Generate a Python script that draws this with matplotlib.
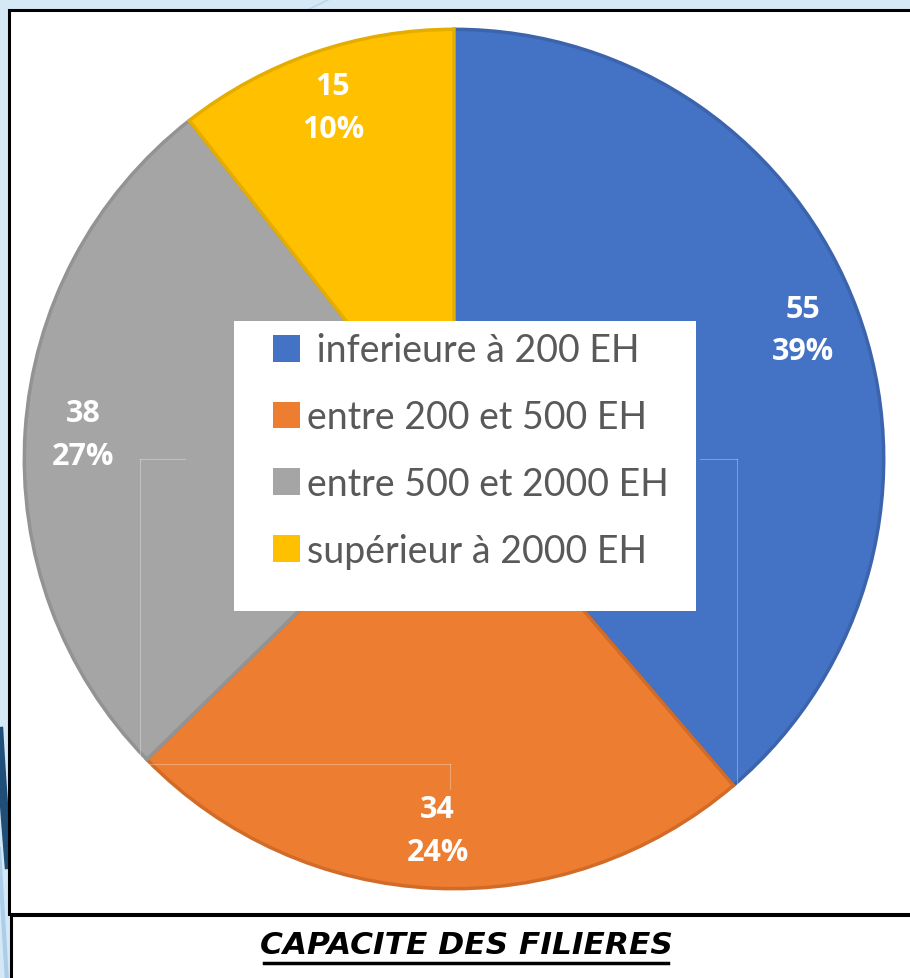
"""
Pie chart: capacite des filieres
"""
import numpy as np
import matplotlib.pyplot as plt
from matplotlib.patches import Rectangle

# data
categories = [' inferieure à 200 EH', 'entre 200 et 500 EH',
              'entre 500 et 2000 EH', 'supérieur à 2000 EH']
values = [55, 34, 38, 15]
pct_labels = ['39%', '24%', '27%', '10%']
colors = ['#4472C4', '#ED7D31', '#A5A5A5', '#FFC000']
edges = ['#3b64ad', '#d26b27', '#939393', '#e5ad00']
title = 'CAPACITE DES FILIERES'

W, H = 910, 979
fig = plt.figure(figsize=(W / 100, H / 100), dpi=100)
fig.patch.set_facecolor('#d5e8f6')

# background axes in pixel coordinates (frames, decoration)
bg = fig.add_axes([0, 0, 1, 1])
bg.set_xlim(0, W)
bg.set_ylim(H, 0)
bg.axis('off')

# dark curved stroke of the slide background on the left
t = np.linspace(0, 1, 50)
bg.plot(-3 + 12 * t ** 1.3, 680 + 190 * t, color='#1f4e79', lw=6,
        solid_capstyle='butt', zorder=0.5)
bg.plot(-4 + 12 * t, 800 + 200 * t, color='#9dc3e6', lw=3, alpha=0.7, zorder=0.5)
bg.plot([305, 330], [12, 0], color='#b9d3ea', lw=1, zorder=0.5)

# chart box and title box
bg.add_patch(Rectangle((8.5, 10.5), 920, 904, facecolor='white', edgecolor='black', lw=2.2))
bg.add_patch(Rectangle((10.5, 916), 920, 80, facecolor='white', edgecolor='black', lw=2.2))

# pie
cx, cy, r = 454, 460, 434
ax = fig.add_axes([(cx - r) / W, (H - cy - r) / H, 2 * r / W, 2 * r / H])
wedges, _ = ax.pie(values, colors=colors, startangle=90, counterclock=False,
                   wedgeprops=dict(linewidth=2.5))
for w, ec in zip(wedges, edges):
    w.set_edgecolor(ec)
ax.set_xlim(-1.01, 1.01)
ax.set_ylim(-1.01, 1.01)
ax.set_aspect('equal')
ax.axis('off')

# data labels
for w, v, p in zip(wedges, values, pct_labels):
    ang = np.deg2rad((w.theta1 + w.theta2) / 2)
    ax.text(0.865 * np.cos(ang), 0.865 * np.sin(ang), f'{v}\n{p}',
            ha='center', va='center', color='white', fontsize=22,
            fontweight='bold', family='Open Sans', linespacing=1.55)

# faint artefact lines over the pie
for xs, ys in [([140, 140], [460, 765]), ([140, 185], [460, 460]),
               ([737, 737], [460, 790]), ([700, 737], [460, 460]),
               ([145, 450], [765, 765]), ([450, 450], [765, 790])]:
    ax.plot(xs, ys, transform=bg.transData, color='white', lw=0.8, alpha=0.3)

# legend box
ax.add_patch(Rectangle((234 / W, 1 - 612 / H), 462 / W, 290 / H,
                       transform=fig.transFigure, facecolor='white',
                       edgecolor='none', zorder=4))
leg = ax.legend(wedges, categories, loc='upper left',
                bbox_to_anchor=(262 / W, 1 - 322 / H), bbox_transform=fig.transFigure,
                frameon=False, prop={'family': 'Lato', 'size': 27},
                handlelength=0.72, handleheight=0.72, handletextpad=0.18,
                labelspacing=0.82, borderaxespad=0, borderpad=0.3)
for txt in leg.get_texts():
    txt.set_color('#595959')
for h in leg.legend_handles:
    h.set_linewidth(0)
leg.set_zorder(5)

# title with underline
tt = bg.text(466, 946, title, ha='center', va='center', fontsize=22.5,
             fontweight='bold', style='italic', color='black')
fig.canvas.draw()
bb = tt.get_window_extent().transformed(bg.transData.inverted())
bg.plot([bb.x0 + 4, bb.x1 - 4], [964, 964], color='black', lw=2.5)

fig.savefig('out.png', dpi=100, facecolor=fig.get_facecolor())
